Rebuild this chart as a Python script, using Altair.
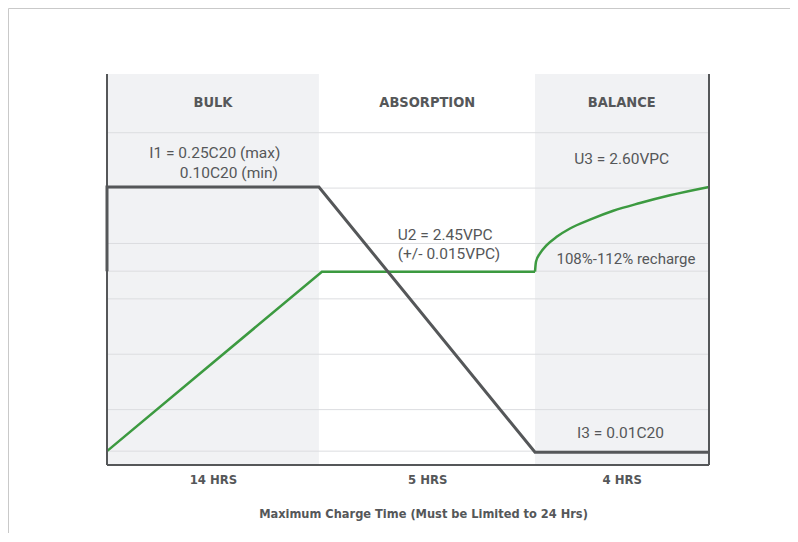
import altair as alt
import pandas as pd

# ---- data ----
phase_names = ["BULK", "ABSORPTION", "BALANCE"]
phase_start = [0, 35.2, 71.1]
phase_end = [35.2, 71.1, 100]
phase_shaded = [True, False, True]
phase_hours = ["14 HRS", "5 HRS", "4 HRS"]
phase_center = [17.6, 53.2, 85.5]

grid_levels = [0.25, 1, 2, 3, 3.5, 4, 5, 6]

current_x = [0, 0, 35.2, 71.1, 100]
current_y = [3.5, 5.02, 5.02, 0.23, 0.23]

ramp_x = [0, 35.7, 71.1]
ramp_y = [0.25, 3.49, 3.49]
curve_x = [71.1, 71.26, 71.93, 73.04, 74.70, 76.91, 80.23, 84.10, 88.54, 93.52, 100]
curve_y = [3.49, 3.67, 3.82, 3.97, 4.12, 4.27, 4.43, 4.59, 4.73, 4.87, 5.02]

notes_text = ["I1 = 0.25C20 (max)", "0.10C20 (min)", "U2 = 2.45VPC", "(+/- 0.015VPC)",
              "U3 = 2.60VPC", "I3 = 0.01C20"]
notes_x = [28.8, 28.4, 48.3, 48.3, 85.5, 85.3]
notes_y = [5.63, 5.28, 4.16, 3.81, 5.52, 0.58]
notes_align = ["right", "right", "left", "left", "center", "center"]

recharge_text = ["108%-112% recharge"]
recharge_x = [86.2]
recharge_y = [3.72]

header_y = 6.53
y_top = 7.06

# ---- styling ----
DARK = "#555759"
GREEN = "#3c9a40"
BAND = "#f1f2f4"
GRID = "#dcdde0"
NARROW = "Liberation Sans Narrow, DejaVu Sans Condensed, Roboto Condensed, Arial Narrow, sans-serif"
REG = "Roboto, Helvetica, Arial, sans-serif"

W, H = 602, 391

xs = alt.Scale(domain=[0, 100], nice=False, zero=False)
ys = alt.Scale(domain=[0, y_top], nice=False, zero=False)

label_expr = " : ".join(
    f"datum.value < {phase_end[i]} ? '{phase_hours[i]}'" for i in range(len(phase_hours) - 1)
) + f" : '{phase_hours[-1]}'"

xaxis = alt.Axis(
    values=phase_center,
    labelExpr=label_expr,
    domain=False, ticks=False, grid=False,
    labelFont=NARROW, labelFontWeight="bold", labelFontSize=13, labelColor=DARK,
    labelPadding=8,
    title="Maximum Charge Time (Must be Limited to 24 Hrs)",
    titleFont=NARROW, titleFontWeight="bold", titleFontSize=12.7, titleColor=DARK,
    titleX=316, titleY=48, titleBaseline="middle", titleAnchor="start", titleAlign="center",
)


def X(field):
    return alt.X(f"{field}:Q", scale=xs, axis=xaxis)


def Y(field):
    return alt.Y(f"{field}:Q", scale=ys, axis=None)


bands = pd.DataFrame({"name": phase_names, "start": phase_start, "end": phase_end,
                      "shaded": phase_shaded, "center": phase_center})
bands["top"] = y_top
bands["bottom"] = 0
bands["hy"] = header_y

band_layer = alt.Chart(bands).transform_filter("datum.shaded").mark_rect(color=BAND).encode(
    x=X("start"), x2="end", y=Y("bottom"), y2="top")

grid_df = pd.DataFrame({"y": grid_levels, "x0": 0, "x1": 100})
grid_layer = alt.Chart(grid_df).mark_rule(color=GRID, strokeWidth=1).encode(
    x=X("x0"), x2="x1", y=Y("y"))

# frame of the plot (left, right, bottom)
frame_df = pd.DataFrame({"x0": [0, 100, 0], "x1": [0, 100, 100],
                         "y0": [0, 0, 0], "y1": [y_top, y_top, 0]})
frame_layer = alt.Chart(frame_df).mark_rule(color=DARK, strokeWidth=2).encode(
    x=X("x0"), x2="x1", y=Y("y0"), y2="y1")

header_layer = alt.Chart(bands).mark_text(
    font=NARROW, fontWeight="bold", fontSize=14.5, color=DARK, baseline="middle").encode(
    x=X("center"), y=Y("hy"), text="name:N")

cur_df = pd.DataFrame({"x": current_x, "y": current_y, "o": range(len(current_x))})
cur_layer = alt.Chart(cur_df).mark_line(color=DARK, strokeWidth=3, strokeJoin="miter").encode(
    x=X("x"), y=Y("y"), order="o:Q")

ramp_df = pd.DataFrame({"x": ramp_x, "y": ramp_y, "o": range(len(ramp_x))})
ramp_layer = alt.Chart(ramp_df).mark_line(color=GREEN, strokeWidth=2.5).encode(
    x=X("x"), y=Y("y"), order="o:Q")

curve_df = pd.DataFrame({"x": curve_x, "y": curve_y, "o": range(len(curve_x))})
curve_layer = alt.Chart(curve_df).mark_line(color=GREEN, strokeWidth=2.5, interpolate="monotone").encode(
    x=X("x"), y=Y("y"), order="o:Q")

notes_df = pd.DataFrame({"t": notes_text, "x": notes_x, "y": notes_y, "a": notes_align})
note_layers = []
for al in ["left", "center", "right"]:
    note_layers.append(
        alt.Chart(notes_df).transform_filter(f"datum.a == '{al}'").mark_text(
            font=REG, fontSize=15.5, color=DARK, align=al, baseline="middle").encode(
            x=X("x"), y=Y("y"), text="t:N"))

rec_df = pd.DataFrame({"t": recharge_text, "x": recharge_x, "y": recharge_y})
rec_layer = alt.Chart(rec_df).mark_text(
    font=REG, fontSize=15, color=DARK, align="center", baseline="middle").encode(
    x=X("x"), y=Y("y"), text="t:N")

# light outer frame of the figure
outer_df = pd.DataFrame({"k": [0]})
outer_top = alt.Chart(outer_df).mark_rule(color="#c9c9c9", strokeWidth=1).encode(
    x=alt.value(-98.5), x2=alt.value(W + 90), y=alt.value(-65.5))
outer_left = alt.Chart(outer_df).mark_rule(color="#c9c9c9", strokeWidth=1).encode(
    x=alt.value(-98.5), y=alt.value(-65.5), y2=alt.value(H + 80))

chart = alt.layer(
    outer_top, outer_left,
    band_layer, grid_layer, header_layer, *note_layers, rec_layer,
    ramp_layer, curve_layer, cur_layer, frame_layer,
).properties(
    width=W, height=H,
    autosize=alt.AutoSizeParams(type="none"),
    padding={"left": 99, "top": 66, "right": 81, "bottom": 68},
    background="white",
).configure_view(stroke=None)

chart.save("out.html", embed_options={"renderer": "svg", "actions": False})
